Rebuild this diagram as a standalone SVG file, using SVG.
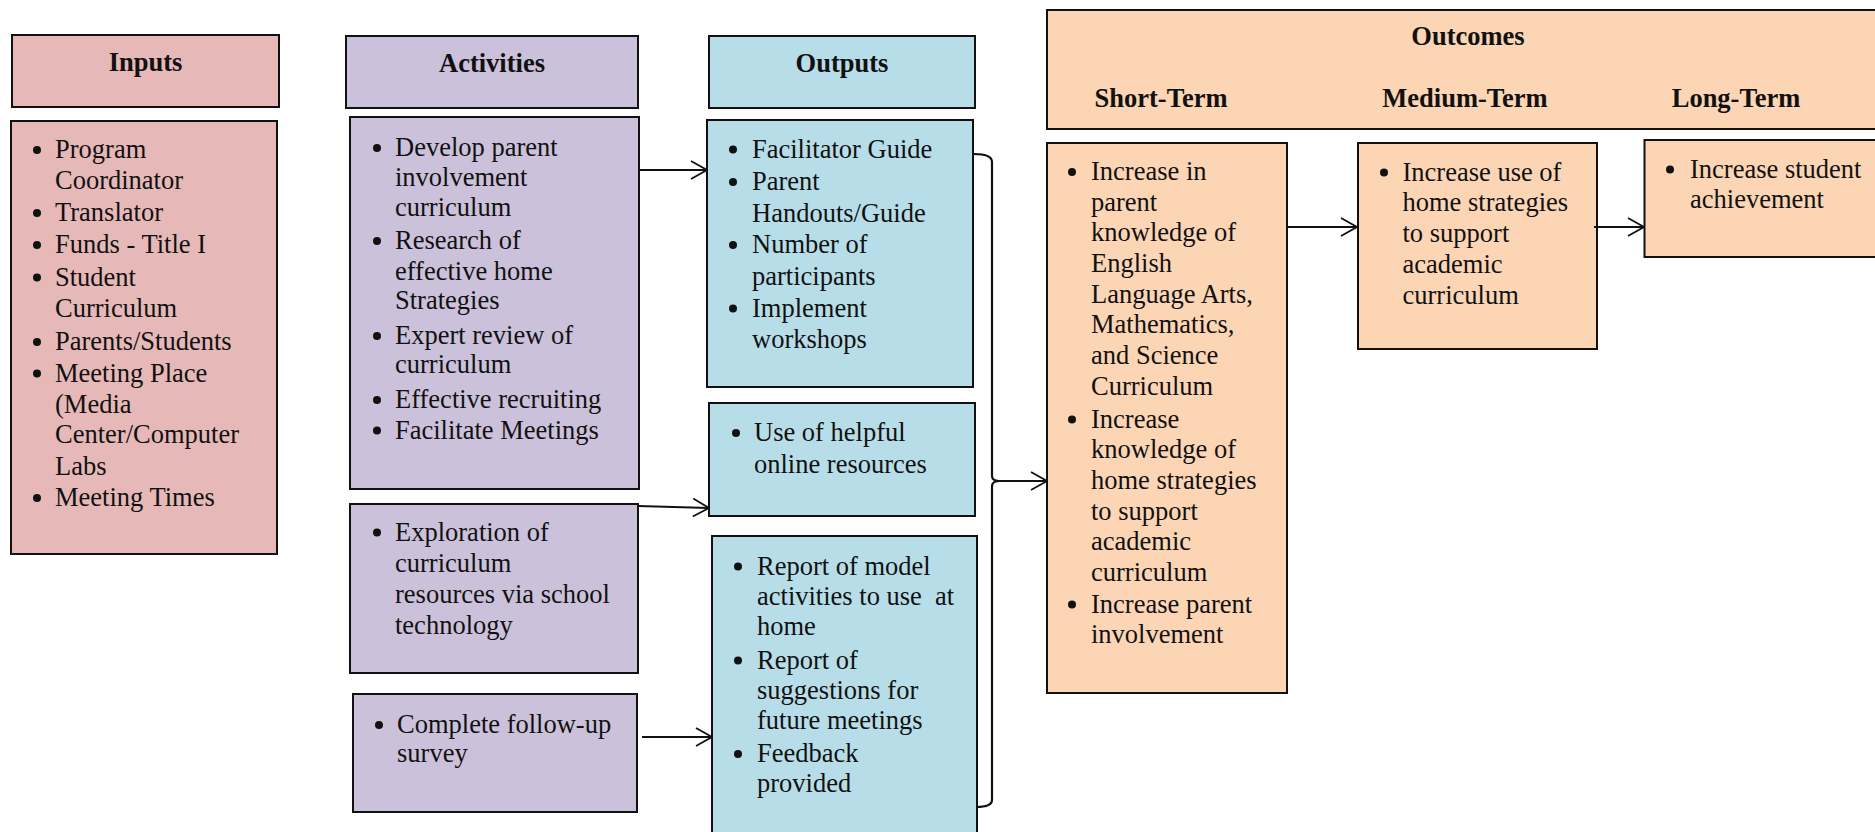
<svg xmlns="http://www.w3.org/2000/svg" width="1875" height="832" viewBox="0 0 1875 832">
<style>
.box{stroke:#111;stroke-width:2}
.in{fill:#E6B9B8}
.act{fill:#CCC1DA}
.out{fill:#B7DEE8}
.oc{fill:#FCD5B5}
.t{font-family:"Liberation Serif","Times New Roman",serif;font-size:26.5px;fill:#111}
.h{font-family:"Liberation Serif","Times New Roman",serif;font-size:26.5px;font-weight:bold;fill:#111}
.b{fill:#111}
.c{fill:none;stroke:#111;stroke-width:1.8}
.br{fill:none;stroke:#111;stroke-width:2.2}
</style>
<defs>
<marker id="ah" viewBox="0 0 18 20" refX="17" refY="10" markerWidth="18" markerHeight="20" markerUnits="userSpaceOnUse" orient="auto">
<path d="M1,1 L17,10 L1,19" fill="none" stroke="#111" stroke-width="1.8"/>
</marker>
</defs>
<rect width="1875" height="832" fill="#fff"/>

<g id="inputs-header">
<rect class="box in" x="12" y="35" width="267" height="72"/>
<text class="h" x="145.5" y="71" text-anchor="middle">Inputs</text>
</g>
<g id="inputs-body">
<rect class="box in" x="11" y="121" width="266" height="433"/>
<g class="b"><circle cx="37" cy="150" r="4"/><circle cx="37" cy="213" r="4"/><circle cx="37" cy="245" r="4"/><circle cx="37" cy="277.5" r="4"/><circle cx="37" cy="342" r="4"/><circle cx="37" cy="373.5" r="4"/><circle cx="37" cy="498" r="4"/></g>
<text class="t"><tspan x="55" y="158">Program</tspan><tspan x="55" y="189">Coordinator</tspan><tspan x="55" y="221">Translator</tspan><tspan x="55" y="253">Funds - Title I</tspan><tspan x="55" y="285.5">Student</tspan><tspan x="55" y="317">Curriculum</tspan><tspan x="55" y="350">Parents/Students</tspan><tspan x="55" y="381.5">Meeting Place</tspan><tspan x="55" y="412.5">(Media</tspan><tspan x="55" y="443">Center/Computer</tspan><tspan x="55" y="474.5">Labs</tspan><tspan x="55" y="506">Meeting Times</tspan></text>
</g>

<g id="activities-header">
<rect class="box act" x="346" y="36" width="292" height="72"/>
<text class="h" x="492" y="72" text-anchor="middle">Activities</text>
</g>
<g id="activities-body">
<rect class="box act" x="350" y="117" width="289" height="372"/>
<g class="b"><circle cx="377" cy="148" r="4"/><circle cx="377" cy="241" r="4"/><circle cx="377" cy="336" r="4"/><circle cx="377" cy="400" r="4"/><circle cx="377" cy="430.5" r="4"/></g>
<text class="t"><tspan x="395" y="156">Develop parent</tspan><tspan x="395" y="186">involvement</tspan><tspan x="395" y="216">curriculum</tspan><tspan x="395" y="249">Research of</tspan><tspan x="395" y="280">effective home</tspan><tspan x="395" y="309">Strategies</tspan><tspan x="395" y="344">Expert review of</tspan><tspan x="395" y="373">curriculum</tspan><tspan x="395" y="408">Effective recruiting</tspan><tspan x="395" y="438.5">Facilitate Meetings</tspan></text>
</g>
<g id="activities-explore">
<rect class="box act" x="350" y="504" width="288" height="169"/>
<circle class="b" cx="377" cy="532.5" r="4"/>
<text class="t"><tspan x="395" y="540.5">Exploration of</tspan><tspan x="395" y="571.5">curriculum</tspan><tspan x="395" y="602.5">resources via school</tspan><tspan x="395" y="633.5">technology</tspan></text>
</g>
<g id="activities-survey">
<rect class="box act" x="353" y="694" width="284" height="118"/>
<circle class="b" cx="379" cy="725" r="4"/>
<text class="t"><tspan x="397" y="733">Complete follow-up</tspan><tspan x="397" y="762">survey</tspan></text>
</g>

<g id="outputs-header">
<rect class="box out" x="709" y="36" width="266" height="72"/>
<text class="h" x="842" y="72" text-anchor="middle">Outputs</text>
</g>
<g id="outputs-guides">
<rect class="box out" x="707" y="120" width="266" height="267"/>
<g class="b"><circle cx="733" cy="149.5" r="4"/><circle cx="733" cy="182" r="4"/><circle cx="733" cy="245" r="4"/><circle cx="733" cy="308.5" r="4"/></g>
<text class="t"><tspan x="752" y="157.5">Facilitator Guide</tspan><tspan x="752" y="190">Parent</tspan><tspan x="752" y="221.5">Handouts/Guide</tspan><tspan x="752" y="253">Number of</tspan><tspan x="752" y="284.5">participants</tspan><tspan x="752" y="316.5">Implement</tspan><tspan x="752" y="347.5">workshops</tspan></text>
</g>
<g id="outputs-online">
<rect class="box out" x="709" y="403" width="266" height="113"/>
<circle class="b" cx="736" cy="433" r="4"/>
<text class="t"><tspan x="754" y="441">Use of helpful</tspan><tspan x="754" y="473">online resources</tspan></text>
</g>
<g id="outputs-reports">
<rect class="box out" x="712" y="536" width="265" height="310"/>
<g class="b"><circle cx="738" cy="566.5" r="4"/><circle cx="738" cy="660.5" r="4"/><circle cx="738" cy="754" r="4"/></g>
<text class="t" xml:space="preserve"><tspan x="757" y="574.5">Report of model</tspan><tspan x="757" y="604.5">activities to use  at</tspan><tspan x="757" y="635">home</tspan><tspan x="757" y="668.5">Report of</tspan><tspan x="757" y="699">suggestions for</tspan><tspan x="757" y="729">future meetings</tspan><tspan x="757" y="762">Feedback</tspan><tspan x="757" y="792">provided</tspan></text>
</g>

<g id="outcomes-header">
<rect class="box oc" x="1047" y="10" width="840" height="119"/>
<text class="h" x="1468" y="45" text-anchor="middle">Outcomes</text>
<text class="h" x="1161" y="107" text-anchor="middle">Short-Term</text>
<text class="h" x="1465" y="107" text-anchor="middle">Medium-Term</text>
<text class="h" x="1736" y="107" text-anchor="middle">Long-Term</text>
</g>
<g id="short-term">
<rect class="box oc" x="1047" y="143" width="240" height="550"/>
<g class="b"><circle cx="1072" cy="172" r="4"/><circle cx="1072" cy="419.5" r="4"/><circle cx="1072" cy="604.5" r="4"/></g>
<text class="t"><tspan x="1091" y="180">Increase in</tspan><tspan x="1091" y="210.5">parent</tspan><tspan x="1091" y="241">knowledge of</tspan><tspan x="1091" y="272">English</tspan><tspan x="1091" y="303">Language Arts,</tspan><tspan x="1091" y="333">Mathematics,</tspan><tspan x="1091" y="364">and Science</tspan><tspan x="1091" y="395">Curriculum</tspan><tspan x="1091" y="427.5">Increase</tspan><tspan x="1091" y="458">knowledge of</tspan><tspan x="1091" y="489">home strategies</tspan><tspan x="1091" y="519.5">to support</tspan><tspan x="1091" y="550">academic</tspan><tspan x="1091" y="580.5">curriculum</tspan><tspan x="1091" y="612.5">Increase parent</tspan><tspan x="1091" y="643">involvement</tspan></text>
</g>
<g id="medium-term">
<rect class="box oc" x="1358" y="143" width="239" height="206"/>
<circle class="b" cx="1384" cy="172.5" r="4"/>
<text class="t"><tspan x="1402.5" y="180.5">Increase use of</tspan><tspan x="1402.5" y="210.5">home strategies</tspan><tspan x="1402.5" y="241.5">to support</tspan><tspan x="1402.5" y="272.5">academic</tspan><tspan x="1402.5" y="303.5">curriculum</tspan></text>
</g>
<g id="long-term">
<rect class="box oc" x="1644.5" y="140" width="250" height="117"/>
<circle class="b" cx="1670" cy="169.5" r="4"/>
<text class="t"><tspan x="1690" y="177.5">Increase student</tspan><tspan x="1690" y="207.5">achievement</tspan></text>
</g>

<g id="connectors">
<line class="c" x1="640" y1="170" x2="707" y2="170" marker-end="url(#ah)"/>
<line class="c" x1="638" y1="506" x2="709" y2="508" marker-end="url(#ah)"/>
<line class="c" x1="642" y1="737" x2="712" y2="737" marker-end="url(#ah)"/>
<path class="br" d="M974,154 Q992,154 992,162 L992,476 Q992,481 1000,481 Q992,481 992,486 L992,800 Q992,807 976,807"/>
<line class="c" x1="1000" y1="481" x2="1047" y2="481" marker-end="url(#ah)"/>
<line class="c" x1="1288" y1="227" x2="1357" y2="227" marker-end="url(#ah)"/>
<line class="c" x1="1594" y1="227" x2="1644" y2="227" marker-end="url(#ah)"/>
</g>
</svg>
